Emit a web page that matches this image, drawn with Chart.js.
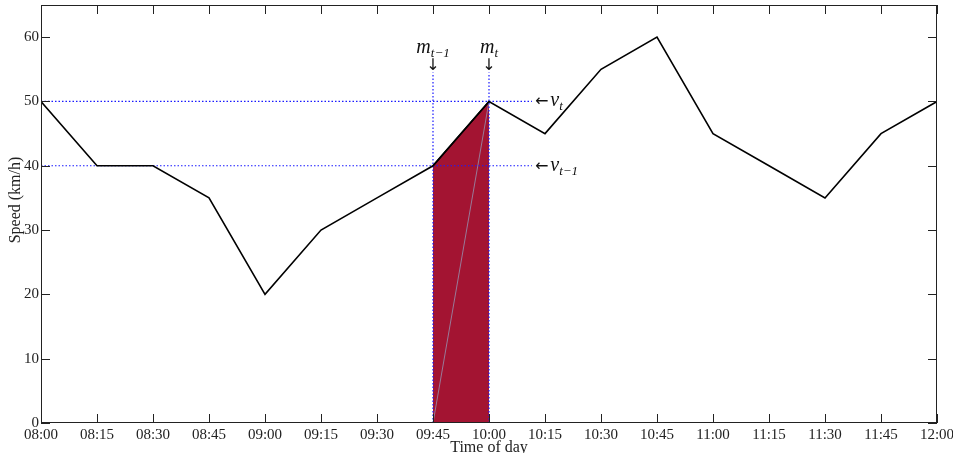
<!DOCTYPE html>
<html>
<head>
<meta charset="utf-8">
<script src="https://cdn.jsdelivr.net/npm/chart.js@4/dist/chart.umd.min.js"></script>
<style>
  html, body { margin: 0; padding: 0; background: #fff; }
  #wrap { width: 953px; height: 453px; position: relative; }
</style>
</head>
<body>
<div id="wrap"><canvas id="speed"></canvas></div>
<script>
// time of day labels, every 15 minutes from 08:00
const timeLabels = ['08:00', '08:15', '08:30', '08:45', '09:00', '09:15', '09:30', '09:45',
    '10:00', '10:15', '10:30', '10:45', '11:00', '11:15', '11:30', '11:45', '12:00'];
const speeds = [50, 40, 40, 35, 20, 30, 35, 40, 50, 45, 55, 60, 45, 40, 35, 45, 50];

// the highlighted segment m(t-1) -> m(t)
const markIdx = [7, 8];
const markNames = ['t\u22121', 't'];
// guide lines: how far the dotted lines reach
const guideEndMin = 131.5;
const guideTopSpeed = 54.5;
const yTicks = [0, 10, 20, 30, 40, 50, 60];

const toMin = s => {
    const [h, m] = s.split(':').map(Number);
    return (h - 8) * 60 + m;
};
const fmt = v => {
    const h = 8 + Math.floor(v / 60), m = v % 60;
    return String(h).padStart(2, '0') + ':' + String(m).padStart(2, '0');
};

const minutes = timeLabels.map(toMin);
const mainPts = minutes.map((x, i) => ({ x, y: speeds[i] }));
const m0 = minutes[markIdx[0]], m1 = minutes[markIdx[1]];
const v0 = speeds[markIdx[0]], v1 = speeds[markIdx[1]];

const blueDot = {
    borderColor: '#1a1aff', borderWidth: 1.2, borderDash: [1.5, 2],
    pointRadius: 0, fill: false, tension: 0
};

const datasets = [
    { data: mainPts, borderColor: '#000', borderWidth: 1.6, pointRadius: 0, fill: false, order: 1 },
    { data: [{ x: m0, y: v0 }, { x: m1, y: v1 }], borderColor: '#000', borderWidth: 1.6,
      backgroundColor: '#a31432', fill: 'origin', pointRadius: 0, order: 5 },
    { data: [{ x: m0, y: 0 }, { x: m1, y: v1 }], borderColor: 'rgba(150,140,170,0.85)',
      borderWidth: 1, pointRadius: 0, fill: false, order: 4 },
    { ...blueDot, data: [{ x: 0, y: v1 }, { x: guideEndMin, y: v1 }], order: 3 },
    { ...blueDot, data: [{ x: 0, y: v0 }, { x: guideEndMin, y: v0 }], order: 3 },
    { ...blueDot, data: [{ x: m0, y: 0 }, { x: m0, y: guideTopSpeed }], order: 3 },
    { ...blueDot, data: [{ x: m1, y: 0 }, { x: m1, y: guideTopSpeed }], order: 3 }
];

const FONT = "'Liberation Serif', 'DejaVu Serif', serif";
const ARROW = "'DejaVu Sans', sans-serif";

// frame with inward tick marks on all four sides, plus the m/v annotations
const framePlugin = {
    id: 'frame',
    afterDatasetsDraw(chart) {
        const { ctx, chartArea: a, scales: { x, y } } = chart;
        ctx.save();
        ctx.strokeStyle = '#222';
        ctx.lineWidth = 1;
        ctx.strokeRect(a.left + 0.5, a.top + 0.5, a.right - a.left - 1, a.bottom - a.top - 1);
        const len = 9;
        ctx.beginPath();
        x.ticks.forEach(t => {
            const px = Math.round(x.getPixelForValue(t.value)) + 0.5;
            ctx.moveTo(px, a.bottom); ctx.lineTo(px, a.bottom - len);
            ctx.moveTo(px, a.top); ctx.lineTo(px, a.top + len);
        });
        y.ticks.forEach(t => {
            const py = Math.round(y.getPixelForValue(t.value)) + 0.5;
            ctx.moveTo(a.left, py); ctx.lineTo(a.left + len, py);
            ctx.moveTo(a.right, py); ctx.lineTo(a.right - len, py);
        });
        ctx.stroke();

        // y axis title, placed a little above the middle like the original
        ctx.fillStyle = '#222';
        ctx.font = '16px ' + FONT;
        ctx.textAlign = 'center';
        ctx.textBaseline = 'middle';
        ctx.translate(16, 200);
        ctx.rotate(-Math.PI / 2);
        ctx.fillText('Speed (km/h)', 0, 0);
        ctx.setTransform(1, 0, 0, 1, 0, 0);

        // annotations
        ctx.fillStyle = '#111';
        ctx.textBaseline = 'alphabetic';
        const top = y.getPixelForValue(guideTopSpeed);
        [m0, m1].forEach((m, i) => {
            const px = x.getPixelForValue(m);
            ctx.font = 'italic 20px ' + FONT;
            const mw = ctx.measureText('m').width;
            ctx.font = 'italic 13px ' + FONT;
            const sw = ctx.measureText(markNames[i]).width;
            const sx = px - (mw + sw) / 2;
            ctx.textAlign = 'left';
            ctx.font = 'italic 20px ' + FONT;
            ctx.fillText('m', sx, top - 20);
            ctx.font = 'italic 13px ' + FONT;
            ctx.fillText(markNames[i], sx + mw, top - 16);
            ctx.font = '16px ' + ARROW;
            ctx.textAlign = 'center';
            ctx.fillText('\u2193', px, top - 3);
        });
        const gx = x.getPixelForValue(guideEndMin) + 3;
        [v1, v0].forEach((v, i) => {
            const py = y.getPixelForValue(v);
            ctx.textAlign = 'left';
            ctx.font = '16px ' + ARROW;
            ctx.fillText('\u2190', gx, py + 5);
            const aw = ctx.measureText('\u2190').width + 2;
            ctx.font = 'italic 20px ' + FONT;
            ctx.fillText('v', gx + aw, py + 5);
            const vw = ctx.measureText('v').width;
            ctx.font = 'italic 13px ' + FONT;
            ctx.fillText(markNames[1 - i], gx + aw + vw, py + 9);
        });
        ctx.restore();
    }
};

new Chart(document.getElementById('speed').getContext('2d'), {
    type: 'line',
    data: { datasets },
    options: {
        responsive: true,
        maintainAspectRatio: false,
        animation: false,
        layout: { padding: { top: 5, right: 16, left: 0, bottom: 0 } },
        plugins: { legend: { display: false }, tooltip: { enabled: false } },
        elements: { line: { tension: 0 } },
        scales: {
            x: {
                type: 'linear', min: 0, max: 240,
                grid: { display: false, drawTicks: false },
                border: { display: false },
                afterBuildTicks: s => { s.ticks = minutes.map(v => ({ value: v })); },
                afterFit: s => { s.height = 30; s.paddingLeft = 0; s.paddingRight = 0; },
                ticks: {
                    padding: 3, color: '#222', maxRotation: 0, autoSkip: false,
                    font: { family: FONT, size: 15 },
                    callback: v => fmt(v)
                },
                title: {
                    display: true, text: 'Time of day', color: '#222',
                    font: { family: FONT, size: 16 }, padding: { top: 0, bottom: -4 }
                }
            },
            y: {
                min: 0, max: 65,
                grid: { display: false, drawTicks: false },
                border: { display: false },
                afterBuildTicks: s => { s.ticks = yTicks.map(v => ({ value: v })); },
                afterFit: s => { s.width = 41; s.paddingTop = 0; s.paddingBottom = 0; },
                ticks: { padding: 2, color: '#222', font: { family: FONT, size: 15 } },
                title: { display: false }
            }
        }
    },
    plugins: [framePlugin]
});
</script>
</body>
</html>
